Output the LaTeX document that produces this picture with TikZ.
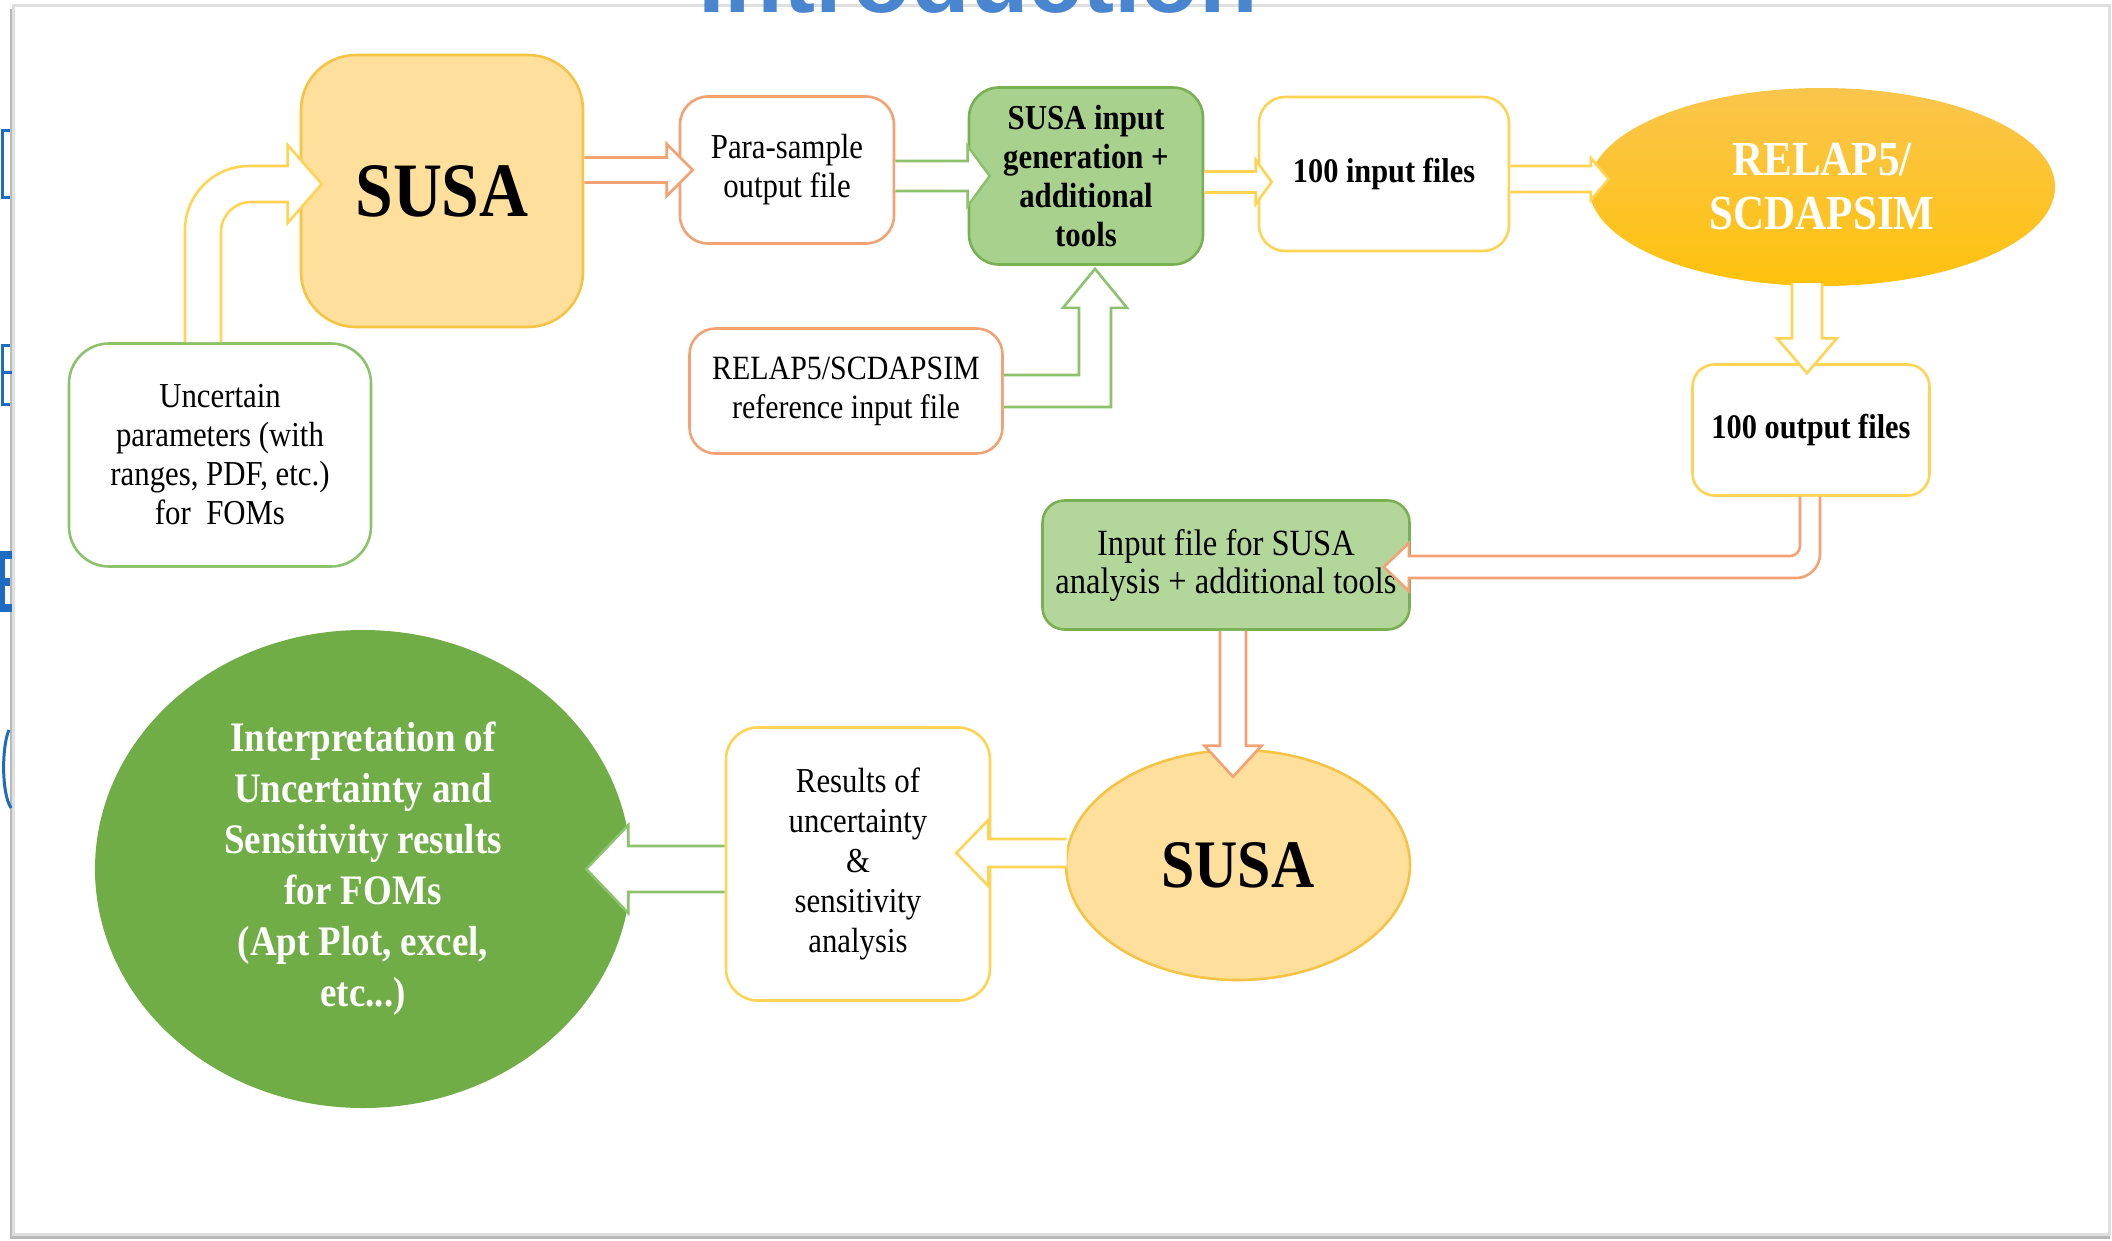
\documentclass[tikz,border=0pt]{standalone}
\usepackage{fontspec}
\setmainfont{Liberation Serif}[FakeStretch=0.88]
\newfontfamily\titlefont{Liberation Sans}
\usetikzlibrary{shapes.geometric,calc}
\definecolor{gold}{HTML}{F6C444}
\definecolor{yline}{HTML}{FFD454}
\definecolor{oline}{HTML}{F3A274}
\definecolor{gline}{HTML}{8CC26C}
\definecolor{gdark}{HTML}{78B052}
\definecolor{susafill}{HTML}{FEDF9C}
\definecolor{genfill}{HTML}{A9D18E}
\definecolor{insfill}{HTML}{B3D79B}
\definecolor{interfill}{HTML}{70AD47}
\definecolor{relaptop}{HTML}{FAC54C}
\definecolor{relapbot}{HTML}{FFC20E}
\definecolor{titleblue}{HTML}{4A86D0}
\definecolor{edgeblue}{HTML}{1C6DC1}
\newcommand\blockarr[2]{\fill[white] #2 -- cycle; \draw[#1] #2;}
\tikzset{
  rbox/.style={draw, line width=2.6, align=center, inner sep=0pt, fill=white},
  fA/.style={font=\fontsize{35}{39}\selectfont},
  fB/.style={font=\fontsize{35}{39}\selectfont\bfseries},
  arrY/.style={draw=yline, line width=2.6, line join=miter},
  arrO/.style={draw=oline, line width=2.6, line join=miter},
  arrG/.style={draw=gline, line width=2.6, line join=miter},
}
\begin{document}
\begin{tikzpicture}[x=1pt,y=-1pt]
\useasboundingbox (0,0) rectangle (2112,1240);
\fill[white] (0,0) rectangle (2112,1240);
% frame of the panel
\fill[gray!55] (10,9) rectangle (2110,1239);
\fill[gray!25] (12,4) rectangle (2111,1236);
\fill[white] (15,7) rectangle (2108,1233);
% cut-off title and left-edge fragments
\begin{scope}
\clip (0,0) rectangle (2112,1240);
\node[anchor=base, text=titleblue, font=\titlefont\fontsize{96}{100}\selectfont\bfseries, inner sep=0pt] (title) at (978,12) {Introduction};
\end{scope}
\begin{scope}
\clip (0,0) rectangle (12,1240);
\draw[edgeblue, line width=3] (10,130) -- (2,130) -- (2,197) -- (10,197);
\draw[edgeblue, line width=3] (10,345) -- (2,345) -- (2,404) -- (10,404);
\draw[edgeblue, line width=3] (2,372) -- (12,372);
\fill[edgeblue] (0,551) rectangle (5,612);
\fill[edgeblue] (5,551) rectangle (12,559);
\fill[edgeblue] (5,578) rectangle (10,586);
\fill[edgeblue] (5,604) rectangle (12,612);
\draw[edgeblue, line width=3] (9,730) .. controls (2,745) and (1,792) .. (11,808);
\end{scope}
% nodes
\node[rbox, draw=gold, fill=susafill, rounded corners=55, minimum width=282, minimum height=272,
      font=\fontsize{77}{80}\selectfont\bfseries] (susa1) at (442,191) {SUSA};
\node[rbox, fA, draw=gline, rounded corners=40, minimum width=302, minimum height=223] (unc) at (220,455)
      {Uncertain\\parameters (with\\ranges, PDF, etc.)\\for\ \ FOMs};
\node[rbox, fA, draw=oline, rounded corners=28, minimum width=214, minimum height=147] (para) at (787,170)
      {Para-sample\\output file};
\node[rbox, fB, draw=gdark, fill=genfill, rounded corners=30, minimum width=234, minimum height=177] (gen) at (1086,176)
      {SUSA input\\generation +\\additional\\tools};
\node[rbox, font=\fontsize{34}{39}\selectfont, draw=oline, rounded corners=26, minimum width=313, minimum height=125] (ref) at (846,391)
      {RELAP5/SCDAPSIM\\reference input file};
\node[rbox, font=\fontsize{34.5}{39}\selectfont\bfseries, draw=yline, rounded corners=26, minimum width=250, minimum height=154] (in100) at (1384,174)
      {100 input files};
\node[ellipse, draw=none, top color=relaptop, bottom color=relapbot, minimum width=466, minimum height=198, inner sep=0pt,
      align=center, text=white, font=\fontsize{49}{54}\selectfont\bfseries] (relap) at (1822,187) {RELAP5/\\SCDAPSIM};
\node[rbox, font=\fontsize{34.5}{39}\selectfont\bfseries, draw=yline, rounded corners=22, minimum width=237, minimum height=131] (out100) at (1811,430)
      {100 output files};
\node[rbox, font=\fontsize{37}{38}\selectfont, draw=gdark, fill=insfill, rounded corners=22, minimum width=367, minimum height=129] (inS) at (1226,565)
      {Input file for SUSA\\analysis + additional tools};
\node[ellipse, draw=gold, line width=2.6, fill=susafill, minimum width=344, minimum height=230, inner sep=0pt,
      font=\fontsize{68}{72}\selectfont\bfseries] (susa2) at (1238,865) {SUSA};
\node[rbox, font=\fontsize{35}{40}\selectfont, draw=yline, rounded corners=32, minimum width=264, minimum height=273] (res) at (858,864)
      {Results of\\uncertainty\\\&\\sensitivity\\analysis};
\node[ellipse, fill=interfill, minimum width=536, minimum height=478, inner sep=0pt, align=center, text=white,
      font=\fontsize{42}{51}\selectfont\bfseries] (interp) at (363,869)
      {Interpretation of\\Uncertainty and\\Sensitivity results\\for FOMs\\(Apt Plot, excel,\\etc...)};
% arrow a: unc -> susa1 (bent)
\coordinate (aS) at ($(unc.north)+(-17,0)$);
\coordinate (aT) at ($(susa1.west)+(22,-7)$);
\coordinate (aC) at (aS |- aT);
\blockarr{arrY}{($(aS)+(-18,0)$) -- ($(aC)+(-18,46)$) .. controls ($(aC)+(-18,10.7)$) and ($(aC)+(10.7,-18)$) .. ($(aC)+(46,-18)$) -- ($(aT)+(-34,-18)$) -- ($(aT)+(-34,-39)$) -- (aT) -- ($(aT)+(-34,39)$) -- ($(aT)+(-34,18)$) -- ($(aC)+(48,18)$) .. controls ($(aC)+(31.4,18)$) and ($(aC)+(18,31.4)$) .. ($(aC)+(18,48)$) -- ($(aS)+(18,0)$)}
% arrow b: susa1 -> para
\coordinate (bS) at (susa1.east |- para.west);
\coordinate (bT) at ($(para.west)+(14,0)$);
\blockarr{arrO}{($(bS)+(0,-12.5)$) -- ($(bT)+(-26,-12.5)$) -- ($(bT)+(-26,-26)$) -- (bT) -- ($(bT)+(-26,26)$) -- ($(bT)+(-26,12.5)$) -- ($(bS)+(0,12.5)$)}
% arrow c: para -> gen
\coordinate (cS) at (para.east |- gen.west);
\coordinate (cT) at ($(gen.west)+(22,0)$);
\blockarr{arrG}{($(cS)+(0,-15)$) -- ($(cT)+(-22,-15)$) -- ($(cT)+(-22,-30)$) -- (cT) -- ($(cT)+(-22,30)$) -- ($(cT)+(-22,15)$) -- ($(cS)+(0,15)$)}
% arrow d: gen -> in100
\coordinate (dT) at ($(in100.west)+(14,8)$);
\coordinate (dS) at (gen.east |- dT);
\blockarr{arrY}{($(dS)+(0,-10.5)$) -- ($(dT)+(-16,-10.5)$) -- ($(dT)+(-16,-22)$) -- (dT) -- ($(dT)+(-16,22)$) -- ($(dT)+(-16,10.5)$) -- ($(dS)+(0,10.5)$)}
% arrow e: in100 -> relap
\coordinate (eT) at ($(relap.west)+(20,-8)$);
\coordinate (eS) at (in100.east |- eT);
\blockarr{arrY}{($(eS)+(0,-13)$) -- ($(eT)+(-18,-13)$) -- ($(eT)+(-18,-21)$) -- (eT) -- ($(eT)+(-18,21)$) -- ($(eT)+(-18,13)$) -- ($(eS)+(0,13)$)}
% arrow f: relap -> out100
\coordinate (fT) at ($(out100.north)+(-4,10)$);
\coordinate (fS) at ($(fT |- relap.south)+(0,-3)$);
\blockarr{arrY}{($(fS)+(-15,0)$) -- ($(fT)+(-15,-35)$) -- ($(fT)+(-30,-35)$) -- (fT) -- ($(fT)+(30,-35)$) -- ($(fT)+(15,-35)$) -- ($(fS)+(15,0)$)}
% arrow g: out100 -> inS (bent)
\coordinate (gS) at ($(out100.south)+(-1,0)$);
\coordinate (gT) at ($(inS.east)+(-27,2)$);
\coordinate (gC) at (gS |- gT);
\blockarr{arrO}{($(gS)+(-10,0)$) -- ($(gC)+(-10,-21)$) .. controls ($(gC)+(-10,-15.5)$) and ($(gC)+(-14.5,-11)$) .. ($(gC)+(-20,-11)$) -- ($(gT)+(25,-11)$) -- ($(gT)+(25,-24)$) -- (gT) -- ($(gT)+(25,24)$) -- ($(gT)+(25,11)$) -- ($(gC)+(-14,11)$) .. controls ($(gC)+(-0.8,11)$) and ($(gC)+(10,0.2)$) .. ($(gC)+(10,-13)$) -- ($(gS)+(10,0)$)}
% arrow h: inS -> susa2
\coordinate (hT) at ($(susa2.north)+(-5,28)$);
\coordinate (hS) at (hT |- inS.south);
\blockarr{arrO}{($(hS)+(-13,0)$) -- ($(hT)+(-13,-31)$) -- ($(hT)+(-28.5,-31)$) -- (hT) -- ($(hT)+(28.5,-31)$) -- ($(hT)+(13,-31)$) -- ($(hS)+(13,0)$)}
% arrow i: susa2 -> res
\coordinate (iT) at ($(res.east)+(-35,-11)$);
\coordinate (iS) at ($(iT -| susa2.west)+(2,0)$);
\blockarr{arrY}{($(iS)+(0,-14)$) -- ($(iT)+(32,-14)$) -- ($(iT)+(32,-33)$) -- (iT) -- ($(iT)+(32,33)$) -- ($(iT)+(32,14)$) -- ($(iS)+(0,14)$)}
% arrow j: res -> interp
\coordinate (jT) at ($(interp.east)+(-45,0)$);
\coordinate (jS) at (jT -| res.west);
\blockarr{arrG}{($(jS)+(0,-23)$) -- ($(jT)+(42,-23)$) -- ($(jT)+(42,-44)$) -- (jT) -- ($(jT)+(42,44)$) -- ($(jT)+(42,23)$) -- ($(jS)+(0,23)$)}
% arrow k: ref -> gen (bent)
\coordinate (kT) at ($(gen.south)+(9,3)$);
\coordinate (kS) at (ref.east);
\coordinate (kC) at (kT |- kS);
\blockarr{arrG}{($(kS)+(0,-16)$) -- ($(kC)+(-16,-16)$) -- ($(kT)+(-16,39)$) -- ($(kT)+(-32,39)$) -- (kT) -- ($(kT)+(32,39)$) -- ($(kT)+(16,39)$) -- ($(kC)+(16,16)$) -- ($(kS)+(0,16)$)}
\end{tikzpicture}
\end{document}
